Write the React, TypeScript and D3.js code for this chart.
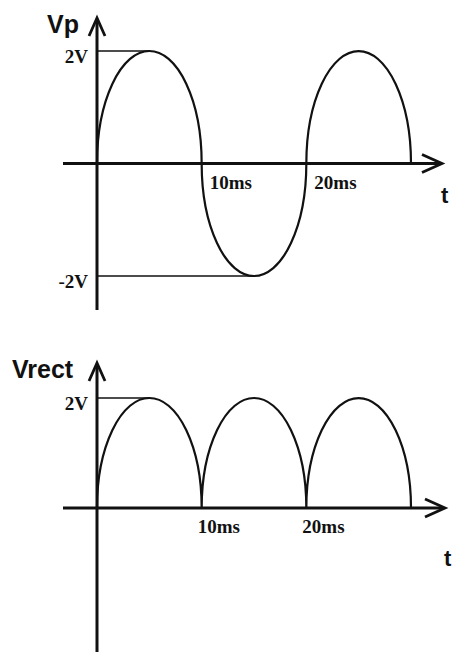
import React from 'react';
import * as d3 from 'd3';

// half-cycle boundaries in ms and the sign of each hump
const halfCycleEdges = [0, 10, 20, 30];
const vpSigns = [1, -1, 1];
const vrectSigns = [1, 1, 1];
const amplitude = 2;
const timeTicks = [10, 20];
const vpTicks = [2, -2];
const vrectTicks = [2];

const W = 453;
const H = 652;

function humpPath(x: d3.ScaleLinear<number, number>, y: d3.ScaleLinear<number, number>, signs: number[]) {
    const y0 = y(0);
    let d = `M${x(halfCycleEdges[0])},${y0}`;
    signs.forEach((s, i) => {
        const x0 = x(halfCycleEdges[i]);
        const x1 = x(halfCycleEdges[i + 1]);
        const rx = (x1 - x0) / 2;
        const ry = Math.abs(y(s * amplitude) - y0);
        d += ` A${rx},${ry} 0 0 ${s > 0 ? 1 : 0} ${x1},${y0}`;
    });
    return d;
}

function ArrowHead({ x, y, dir }: { x: number; y: number; dir: 'up' | 'right' }) {
    const d = dir === 'up'
        ? `M${x - 8},${y + 18} L${x},${y} L${x + 8},${y + 18}`
        : `M${x - 20},${y - 9} L${x},${y} L${x - 20},${y + 9}`;
    return <path d={d} fill="none" stroke="#111" strokeWidth={2.8} strokeLinejoin="miter" />;
}

function Plot({ label, labelX, signs, yTicks, yDomain, yRange, yTop, yBottom, xAxisRight, tickDx, tX, tY }: any) {
    const x = d3.scaleLinear().domain([0, 30]).range([97, 411]);
    const y = d3.scaleLinear().domain(yDomain).range(yRange);
    const y0 = y(0);
    return (
        <g>
            {/* guide lines from the axis to each peak */}
            {yTicks.map((v: number) => {
                const idx = signs.findIndex((s: number) => s * amplitude === v);
                const peakX = (x(halfCycleEdges[idx]) + x(halfCycleEdges[idx + 1])) / 2;
                return <line key={v} x1={x(0)} x2={peakX} y1={y(v)} y2={y(v)} stroke="#111" strokeWidth={1.3} />;
            })}
            {yTicks.map((v: number) => (
                <text key={'t' + v} x={88} y={y(v) + 12} textAnchor="end" fontFamily="Liberation Serif" fontWeight="bold" fontSize={19} fill="#111">
                    {v}V
                </text>
            ))}
            <path d={humpPath(x, y, signs)} fill="none" stroke="#111" strokeWidth={2.2} />
            {/* axes */}
            <line x1={x(0)} x2={x(0)} y1={yTop + 1} y2={yBottom} stroke="#111" strokeWidth={3} />
            <line x1={63} x2={xAxisRight - 1} y1={y0} y2={y0} stroke="#111" strokeWidth={3} />
            <ArrowHead x={x(0)} y={yTop} dir="up" />
            <ArrowHead x={xAxisRight} y={y0} dir="right" />
            {timeTicks.map(t => (
                <text key={t} x={x(t) + tickDx} y={y0 + 25} fontFamily="Liberation Serif" fontWeight="bold" fontSize={19} fill="#111">
                    {t}ms
                </text>
            ))}
            <text x={labelX} y={yTop + 15} fontFamily="Liberation Sans" fontWeight="bold" fontSize={25} fill="#111">{label}</text>
            <text x={tX} y={tY} fontFamily="Liberation Sans" fontWeight="bold" fontSize={22} fill="#111">t</text>
        </g>
    );
}

export default function App() {
    return (
        <svg width={W} height={H} style={{ position: 'absolute', left: 0, top: 0, background: '#fff' }}>
            <rect width={W} height={H} fill="#fff" />
            <Plot label="Vp" labelX={47} signs={vpSigns} yTicks={vpTicks} yDomain={[-2, 2]} yRange={[276, 51]}
                yTop={18} yBottom={310} xAxisRight={442} tickDx={8} tX={441} tY={203} />
            <Plot label="Vrect" labelX={12} signs={vrectSigns} yTicks={vrectTicks} yDomain={[0, 2]} yRange={[508, 398]}
                yTop={363} yBottom={H} xAxisRight={445} tickDx={-4} tX={444} tY={566} />
        </svg>
    );
}
